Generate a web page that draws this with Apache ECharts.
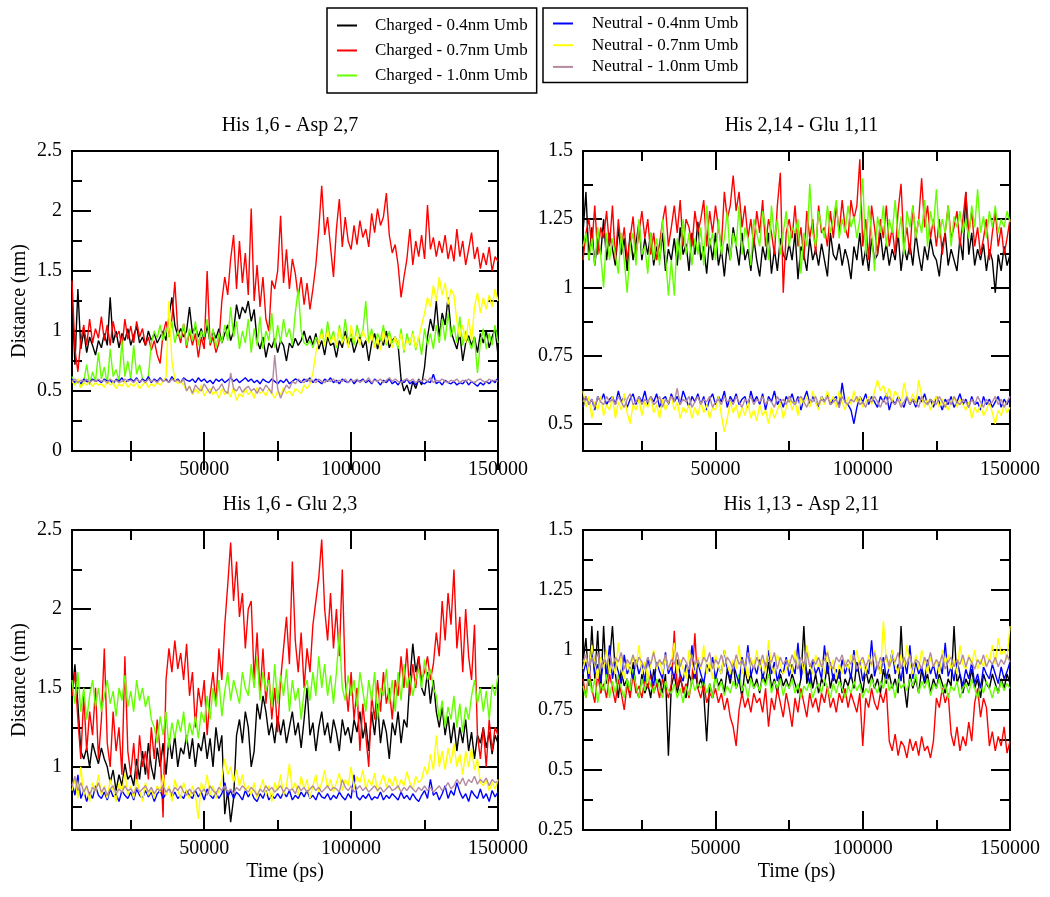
<!DOCTYPE html>
<html><head><meta charset="utf-8">
<script src="https://cdn.jsdelivr.net/npm/echarts@6/dist/echarts.min.js"></script>
<style>html,body{margin:0;padding:0;background:#fff}#c{width:1050px;height:897px}</style>
</head><body><div id="c"></div>
<script>
const times = [5000,6000,7000,8000,9000,10000,11000,12000,13000,14000,
15000,16000,17000,18000,19000,20000,21000,22000,23000,24000,
25000,26000,27000,28000,29000,30000,31000,32000,33000,34000,
35000,36000,37000,38000,39000,40000,41000,42000,43000,44000,
45000,46000,47000,48000,49000,50000,51000,52000,53000,54000,
55000,56000,57000,58000,59000,60000,61000,62000,63000,64000,
65000,66000,67000,68000,69000,70000,71000,72000,73000,74000,
75000,76000,77000,78000,79000,80000,81000,82000,83000,84000,
85000,86000,87000,88000,89000,90000,91000,92000,93000,94000,
95000,96000,97000,98000,99000,100000,101000,102000,103000,104000,
105000,106000,107000,108000,109000,110000,111000,112000,113000,114000,
115000,116000,117000,118000,119000,120000,121000,122000,123000,124000,
125000,126000,127000,128000,129000,130000,131000,132000,133000,134000,
135000,136000,137000,138000,139000,140000,141000,142000,143000,144000,
145000,146000,147000,148000,149000,150000];

const seriesNames = ['Charged - 0.4nm Umb','Charged - 0.7nm Umb','Charged - 1.0nm Umb','Neutral - 0.4nm Umb','Neutral - 0.7nm Umb','Neutral - 1.0nm Umb'];
const seriesColors = ['#000000','#ff0000','#66ff00','#0000ff','#ffff00','#b38aa0'];
const panelTitles = ['His 1,6 - Asp 2,7','His 2,14 - Glu 1,11','His 1,6 - Glu 2,3','His 1,13 - Asp 2,11'];
const xMajorTicks = [50000,100000,150000];
const xMinorTicks = [25000,75000,125000];
const yRanges = [[0,2.5],[0.4,1.5],[0.6,2.5],[0.25,1.5]];
const yMajorTicks = [[0,0.5,1,1.5,2,2.5],[0.5,0.75,1,1.25,1.5],[1,1.5,2,2.5],[0.25,0.5,0.75,1,1.25,1.5]];
const yMinorTicks = [[0.25,0.75,1.25,1.75,2.25],[0.625,0.875,1.125,1.375],[0.75,1.25,1.75,2.25],[0.375,0.625,0.875,1.125,1.375]];

// Panel 1: His 1,6 - Asp 2,7
const p1Black = [1.3,0.72,1.35,0.85,1.0,0.82,0.95,0.88,0.8,0.92,
0.86,0.98,0.88,1.28,0.9,1.0,0.86,0.98,0.92,1.02,
0.88,0.96,1.04,0.9,0.95,0.88,1.0,0.92,0.98,0.9,
0.95,1.0,0.92,1.12,1.28,1.05,0.96,1.02,0.95,1.0,
1.2,0.98,1.04,0.95,1.02,0.92,1.05,0.9,1.0,0.94,
1.02,0.9,0.98,1.05,0.92,1.0,1.22,1.1,1.2,1.15,
1.25,1.08,1.18,0.92,0.85,0.95,0.78,0.9,0.86,0.94,
0.82,0.92,0.88,0.75,0.9,0.86,0.94,0.88,0.92,1.0,
0.9,0.96,0.88,0.98,0.85,0.92,0.8,0.95,0.88,0.9,
0.78,0.92,0.86,1.0,0.88,0.94,0.82,0.9,0.96,0.86,
0.92,0.75,0.9,0.98,0.85,0.94,0.88,1.0,0.86,0.92,
0.95,0.88,0.6,0.5,0.55,0.47,0.58,0.52,0.6,0.55,
0.7,0.95,1.1,1.0,1.25,0.95,1.15,1.05,1.28,1.0,
0.92,0.85,0.98,0.75,0.9,0.96,0.88,0.95,0.82,0.98,
0.9,1.0,0.86,0.95,1.02,0.8];
const p1Red = [1.42,0.85,0.66,0.92,1.05,0.88,1.1,0.9,1.02,0.94,
1.12,0.92,1.05,0.88,1.08,0.95,1.0,0.86,1.1,0.93,
1.04,0.9,1.08,0.95,1.02,0.88,0.95,0.84,0.92,0.8,
0.73,0.98,1.08,0.95,1.1,1.41,1.0,0.9,1.06,0.86,
1.0,0.88,0.98,0.78,0.95,0.85,1.5,0.88,0.95,0.82,
0.9,1.25,1.45,1.3,1.6,1.8,1.35,1.75,1.4,1.65,
1.3,2.02,1.25,1.55,1.2,1.45,1.1,1.0,1.42,1.35,
1.5,1.96,1.4,1.68,1.35,1.6,1.48,1.28,1.45,1.22,
1.4,1.18,1.35,1.55,1.85,2.21,1.8,1.95,1.7,1.45,
1.85,2.1,1.7,1.95,1.75,1.68,1.88,1.72,1.92,1.78,
1.85,1.7,1.98,1.82,2.02,1.88,1.95,2.15,1.8,1.65,
1.72,1.55,1.28,1.45,1.6,1.85,1.55,1.75,1.62,1.8,
1.6,2.05,1.68,1.78,1.62,1.75,1.65,1.8,1.6,1.72,
1.58,1.85,1.62,1.75,1.55,1.68,1.82,1.6,1.7,1.52,
1.65,1.55,1.7,1.5,1.62,1.58];
const p1Green = [0.62,0.55,0.6,0.53,0.58,0.72,0.55,0.66,0.58,0.82,
0.6,0.7,0.56,0.85,0.62,0.68,0.58,0.92,0.62,0.75,
0.6,0.88,0.64,0.72,0.6,0.58,0.62,0.9,1.0,0.94,
1.05,0.92,1.02,0.95,1.08,0.9,1.0,0.94,1.06,0.88,
1.02,0.92,1.08,0.88,1.0,0.95,1.1,0.9,1.02,0.86,
0.98,0.9,1.05,0.92,1.2,0.95,1.08,0.85,1.0,0.9,
1.1,0.82,1.02,0.88,1.12,0.85,1.0,0.92,1.15,0.86,
1.05,0.9,1.1,0.95,1.02,0.88,1.15,1.35,1.0,0.9,
0.88,0.92,0.86,0.95,0.9,1.02,0.88,1.08,0.92,1.0,
0.86,1.05,0.9,1.1,0.92,0.98,0.88,1.05,0.95,1.0,
1.25,0.9,1.02,0.86,0.98,0.92,1.05,0.88,1.0,0.9,
0.95,0.85,1.02,0.82,0.98,0.88,1.0,0.84,0.95,0.8,
1.02,0.88,0.98,0.85,1.05,0.9,1.1,0.92,1.15,0.95,
1.05,0.9,1.12,0.88,1.0,0.92,0.85,0.95,0.65,0.9,
1.02,0.85,0.98,0.88,1.05,0.9];
const p1Blue = [0.6,0.57,0.59,0.56,0.6,0.58,0.57,0.6,0.58,0.59,
0.57,0.6,0.58,0.59,0.56,0.6,0.58,0.61,0.57,0.59,
0.6,0.58,0.61,0.57,0.6,0.58,0.62,0.57,0.6,0.58,
0.61,0.58,0.6,0.57,0.62,0.58,0.6,0.57,0.61,0.59,
0.58,0.6,0.57,0.61,0.58,0.6,0.57,0.59,0.56,0.6,
0.58,0.6,0.57,0.59,0.61,0.58,0.6,0.57,0.59,0.61,
0.58,0.6,0.57,0.59,0.56,0.6,0.58,0.57,0.6,0.58,
0.56,0.59,0.57,0.6,0.56,0.58,0.6,0.59,0.57,0.6,
0.58,0.61,0.57,0.6,0.58,0.56,0.6,0.58,0.61,0.57,
0.59,0.56,0.6,0.58,0.57,0.6,0.56,0.59,0.58,0.6,
0.57,0.59,0.56,0.6,0.58,0.55,0.59,0.57,0.6,0.56,
0.58,0.55,0.59,0.57,0.6,0.56,0.58,0.55,0.59,0.57,
0.56,0.58,0.57,0.64,0.56,0.58,0.55,0.59,0.57,0.56,
0.58,0.55,0.57,0.56,0.59,0.55,0.58,0.56,0.54,0.57,
0.55,0.58,0.56,0.59,0.57,0.61];
const p1Yellow = [0.58,0.55,0.6,0.53,0.57,0.55,0.58,0.54,0.57,0.55,
0.56,0.53,0.58,0.55,0.57,0.52,0.56,0.54,0.58,0.53,
0.56,0.54,0.57,0.52,0.55,0.58,0.53,0.56,0.54,0.57,
0.55,0.58,0.62,1.25,0.75,0.6,0.56,0.58,0.55,0.5,
0.54,0.47,0.52,0.48,0.55,0.46,0.5,0.52,0.47,0.5,
0.44,0.52,0.47,0.5,0.45,0.53,0.42,0.48,0.45,0.52,
0.47,0.5,0.44,0.53,0.48,0.5,0.46,0.52,0.48,0.44,
0.5,0.47,0.53,0.48,0.5,0.46,0.52,0.5,0.48,0.55,
0.52,0.56,0.65,0.82,0.92,0.98,0.88,1.0,0.9,0.96,
0.88,1.02,0.9,0.96,0.86,1.05,0.92,0.98,0.88,1.0,
0.94,0.9,0.98,0.86,0.94,0.84,1.0,0.9,0.96,0.86,
0.95,0.88,0.98,0.84,0.92,0.9,0.98,0.86,0.94,1.05,
1.15,1.28,1.2,1.38,1.25,1.45,1.3,1.4,1.22,1.35,
1.3,1.08,0.95,1.05,0.9,1.1,0.92,1.2,1.32,1.15,
1.28,1.18,1.3,1.2,1.35,1.25];
const p1Mauve = [0.58,0.6,0.57,0.59,0.58,0.6,0.57,0.59,0.58,0.6,
0.58,0.59,0.57,0.6,0.58,0.59,0.57,0.58,0.6,0.58,
0.59,0.57,0.6,0.58,0.59,0.57,0.6,0.58,0.59,0.57,
0.6,0.58,0.59,0.57,0.6,0.58,0.59,0.57,0.6,0.5,
0.54,0.48,0.55,0.52,0.5,0.56,0.52,0.48,0.54,0.5,
0.52,0.56,0.5,0.48,0.65,0.52,0.5,0.54,0.49,0.52,
0.54,0.5,0.52,0.48,0.53,0.5,0.55,0.52,0.48,0.8,
0.52,0.44,0.5,0.55,0.52,0.58,0.56,0.6,0.58,0.57,
0.6,0.58,0.59,0.57,0.6,0.58,0.57,0.59,0.58,0.6,
0.57,0.59,0.58,0.6,0.57,0.59,0.58,0.6,0.57,0.59,
0.58,0.61,0.57,0.59,0.58,0.6,0.57,0.59,0.61,0.58,
0.6,0.58,0.57,0.59,0.6,0.58,0.6,0.57,0.59,0.58,
0.6,0.58,0.61,0.57,0.59,0.58,0.6,0.58,0.57,0.59,
0.58,0.6,0.57,0.59,0.58,0.6,0.58,0.57,0.59,0.6,
0.58,0.57,0.6,0.58,0.59,0.58];

// Panel 2: His 2,14 - Glu 1,11
const p2Black = [1.2,1.35,1.1,1.22,1.08,1.18,1.12,1.25,1.1,1.2,
1.14,1.08,1.22,1.12,1.18,1.06,1.2,1.1,1.16,1.24,
1.1,1.18,1.12,1.2,1.08,1.15,1.1,1.2,1.06,1.14,
1.1,1.18,1.08,1.22,1.12,1.16,1.06,1.2,1.12,1.24,
1.1,1.15,1.05,1.18,1.1,1.2,1.08,1.14,1.04,1.16,
1.1,1.22,1.15,1.08,1.2,1.1,1.14,1.06,1.18,1.1,
1.04,1.15,1.1,1.2,1.05,1.14,1.06,1.18,1.12,1.1,
1.16,1.1,1.2,1.03,1.15,1.12,1.06,1.18,1.1,1.14,
1.08,1.16,1.1,1.04,1.2,1.12,1.1,1.16,1.08,1.14,
1.1,1.03,1.15,1.1,1.2,1.08,1.14,1.06,1.18,1.1,
1.12,1.2,1.1,1.16,1.08,1.14,1.1,1.2,1.06,1.15,
1.1,1.16,1.08,1.2,1.12,1.06,1.15,1.1,1.18,1.12,
1.1,1.04,1.15,1.2,1.08,1.14,1.1,1.06,1.18,1.1,
1.35,1.12,1.2,1.08,1.14,1.1,1.16,1.06,1.14,1.1,
0.98,1.12,1.06,1.15,1.08,1.12];
const p2Red = [1.1,1.2,1.25,1.15,1.3,1.12,1.22,1.18,1.28,1.15,
1.3,1.1,1.25,1.14,1.22,1.1,1.18,1.26,1.12,1.2,
1.28,1.18,1.25,1.12,1.2,1.1,1.16,1.24,1.3,1.15,
1.22,1.3,1.2,1.32,1.15,1.25,1.22,1.15,1.28,1.2,
1.25,1.32,1.15,1.28,1.2,1.3,1.22,1.15,1.35,1.25,
1.3,1.41,1.28,1.35,1.22,1.3,1.18,1.25,1.15,1.28,
1.2,1.32,1.15,1.25,1.2,1.12,1.3,1.42,0.98,1.2,
1.25,1.18,1.3,1.15,1.22,1.1,1.28,1.18,1.25,1.12,
1.3,1.2,1.22,1.15,1.28,1.18,1.3,1.2,1.32,1.22,
1.18,1.32,1.25,1.3,1.47,1.15,1.25,1.1,1.3,1.22,
1.12,1.25,1.18,1.3,1.15,1.22,1.12,1.28,1.38,1.15,
1.22,1.12,1.3,1.18,1.25,1.4,1.22,1.3,1.18,1.25,
1.15,1.25,1.12,1.2,1.3,1.18,1.22,1.28,1.15,1.25,
1.35,1.2,1.28,1.15,1.22,1.12,1.18,1.25,1.1,1.2,
1.28,1.15,1.22,1.12,1.18,1.25];
const p2Green = [1.15,1.2,1.1,1.18,1.08,1.22,1.12,1.0,1.2,1.1,
1.18,1.12,1.05,1.2,1.1,0.98,1.15,1.2,1.08,1.25,
1.12,1.15,1.05,1.2,1.1,1.18,1.08,1.25,1.12,0.97,
1.1,0.97,1.18,1.1,1.25,1.12,1.2,1.08,1.18,1.12,
1.22,1.08,1.3,1.15,1.2,1.1,1.25,1.12,1.18,1.28,
1.1,1.2,1.15,1.3,1.12,1.22,1.18,1.08,1.25,1.2,
1.15,1.28,1.22,1.1,1.3,1.18,1.25,1.12,1.2,1.28,
1.15,1.22,1.2,1.25,1.05,1.2,1.15,1.38,1.2,1.15,
1.28,1.22,1.18,1.3,1.2,1.25,1.32,1.18,1.25,1.2,
1.3,1.22,1.26,1.18,1.25,1.4,1.12,1.3,1.2,1.06,
1.26,1.2,1.3,1.15,1.25,1.2,1.32,1.18,1.26,1.12,
1.28,1.22,1.3,1.18,1.25,1.2,1.32,1.15,1.28,1.22,
1.36,1.18,1.25,1.2,1.3,1.15,1.26,1.22,1.28,1.2,
1.25,1.18,1.3,1.22,1.36,1.2,1.26,1.18,1.28,1.22,
1.3,1.2,1.25,1.22,1.28,1.24];
const p2Blue = [0.56,0.6,0.57,0.59,0.55,0.6,0.58,0.61,0.57,0.59,
0.6,0.57,0.62,0.58,0.6,0.56,0.59,0.61,0.57,0.6,
0.58,0.62,0.57,0.6,0.58,0.61,0.56,0.59,0.6,0.57,
0.61,0.58,0.6,0.57,0.62,0.59,0.56,0.6,0.58,0.61,
0.57,0.6,0.55,0.59,0.61,0.57,0.6,0.58,0.62,0.56,
0.6,0.58,0.61,0.57,0.59,0.6,0.56,0.62,0.58,0.6,
0.57,0.61,0.55,0.6,0.58,0.62,0.57,0.59,0.56,0.6,
0.58,0.61,0.57,0.6,0.55,0.59,0.62,0.57,0.6,0.58,
0.56,0.6,0.58,0.61,0.57,0.59,0.6,0.56,0.65,0.58,
0.57,0.55,0.5,0.56,0.6,0.58,0.61,0.57,0.6,0.58,
0.56,0.6,0.58,0.61,0.55,0.59,0.57,0.6,0.58,0.56,
0.6,0.57,0.59,0.56,0.6,0.58,0.61,0.57,0.59,0.56,
0.6,0.58,0.55,0.59,0.57,0.6,0.56,0.58,0.61,0.57,
0.59,0.56,0.6,0.57,0.58,0.55,0.6,0.57,0.59,0.56,
0.58,0.6,0.56,0.59,0.57,0.6];
const p2Yellow = [0.62,0.56,0.6,0.52,0.58,0.55,0.6,0.53,0.57,0.55,
0.6,0.52,0.58,0.55,0.61,0.54,0.5,0.57,0.55,0.59,
0.53,0.58,0.56,0.6,0.54,0.57,0.52,0.59,0.55,0.58,
0.6,0.55,0.58,0.52,0.56,0.54,0.57,0.52,0.56,0.53,
0.58,0.54,0.57,0.52,0.56,0.55,0.6,0.53,0.47,0.52,
0.58,0.54,0.57,0.52,0.56,0.53,0.58,0.52,0.55,0.51,
0.57,0.53,0.55,0.5,0.56,0.52,0.55,0.58,0.52,0.56,
0.6,0.55,0.58,0.53,0.6,0.57,0.6,0.56,0.62,0.58,
0.55,0.6,0.57,0.62,0.58,0.6,0.56,0.62,0.58,0.55,
0.6,0.57,0.62,0.58,0.6,0.56,0.58,0.6,0.57,0.62,
0.66,0.62,0.64,0.6,0.63,0.58,0.62,0.6,0.57,0.65,
0.6,0.58,0.61,0.57,0.66,0.6,0.56,0.59,0.55,0.58,
0.6,0.56,0.59,0.57,0.55,0.58,0.6,0.56,0.59,0.57,
0.55,0.58,0.52,0.56,0.54,0.57,0.53,0.55,0.58,0.54,
0.5,0.55,0.53,0.57,0.54,0.56];
const p2Mauve = [0.58,0.6,0.57,0.59,0.56,0.6,0.58,0.57,0.6,0.58,
0.59,0.57,0.6,0.58,0.56,0.59,0.61,0.57,0.58,0.6,
0.57,0.59,0.58,0.6,0.57,0.58,0.6,0.56,0.59,0.58,
0.6,0.58,0.63,0.57,0.59,0.58,0.6,0.56,0.58,0.6,
0.57,0.59,0.58,0.6,0.56,0.58,0.59,0.57,0.6,0.58,
0.59,0.57,0.6,0.58,0.56,0.59,0.58,0.6,0.57,0.59,
0.58,0.6,0.57,0.59,0.58,0.56,0.6,0.58,0.59,0.57,
0.6,0.58,0.57,0.59,0.6,0.58,0.56,0.59,0.58,0.6,
0.57,0.59,0.58,0.6,0.57,0.58,0.59,0.56,0.6,0.58,
0.57,0.59,0.58,0.6,0.57,0.58,0.56,0.59,0.58,0.6,
0.58,0.56,0.59,0.57,0.6,0.58,0.57,0.59,0.56,0.58,
0.6,0.57,0.59,0.58,0.56,0.6,0.58,0.57,0.59,0.58,
0.57,0.6,0.58,0.56,0.59,0.57,0.6,0.58,0.57,0.59,
0.58,0.56,0.59,0.57,0.6,0.58,0.56,0.59,0.57,0.58,
0.6,0.57,0.59,0.56,0.58,0.6];

// Panel 3: His 1,6 - Glu 2,3
const p3Black = [1.45,1.65,1.4,1.1,1.05,1.12,1.0,1.15,1.08,1.02,
1.12,1.05,1.0,0.9,0.98,0.85,0.95,0.88,1.02,0.92,
0.95,0.88,1.05,0.92,1.1,0.95,1.15,1.0,0.92,1.12,
1.0,1.15,0.95,1.18,1.05,1.2,1.0,1.12,1.08,1.2,
1.05,1.18,1.0,1.15,1.1,1.22,1.05,1.18,1.0,1.25,
1.1,1.2,0.7,0.85,0.65,0.8,1.2,1.3,1.15,1.35,
1.25,1.0,1.1,1.4,1.3,1.45,1.35,1.2,1.28,1.15,
1.32,1.2,1.3,1.15,1.25,1.35,1.2,1.28,1.12,1.3,
1.5,1.2,1.28,1.1,1.25,1.35,1.2,1.28,1.15,1.3,
1.22,1.1,1.3,1.2,1.25,1.15,1.3,1.22,1.35,1.18,
1.28,1.1,1.35,1.2,1.4,1.15,1.3,1.22,1.05,1.28,
1.2,1.35,1.15,1.3,1.25,1.55,1.78,1.6,1.7,1.5,
1.45,1.6,1.4,1.55,1.35,1.25,1.38,1.2,1.32,1.15,
1.28,1.1,1.25,1.15,1.3,1.1,1.22,1.05,1.2,1.15,
1.25,1.12,1.22,1.08,1.2,1.15];
const p3Red = [1.45,1.6,1.3,1.05,1.45,1.1,1.35,1.2,1.5,1.05,
1.3,1.75,1.15,1.0,1.35,1.1,1.25,0.95,1.7,1.1,
0.95,1.15,0.9,1.2,1.0,1.1,0.92,1.25,1.05,1.3,
1.1,0.68,1.55,1.75,1.6,1.8,1.62,1.72,1.55,1.78,
1.45,1.6,1.25,1.5,1.38,1.55,1.2,1.45,1.6,1.4,
1.75,1.55,1.9,2.15,2.42,2.05,2.3,1.95,2.1,1.75,
2.0,2.05,1.55,1.85,1.45,1.75,1.4,1.6,1.3,1.5,
1.22,1.55,1.75,1.95,1.65,2.3,1.8,1.6,1.85,1.5,
1.75,1.6,1.9,2.05,2.2,2.44,2.0,1.8,2.1,1.75,
2.0,1.7,2.25,1.55,1.35,1.6,1.3,1.5,1.1,1.4,
1.2,1.0,1.45,1.3,1.55,1.35,1.6,1.4,1.5,1.3,
1.55,1.45,1.7,1.5,1.75,1.45,1.65,1.5,1.7,1.55,
1.6,1.7,1.55,1.65,1.85,1.7,2.05,1.8,2.1,1.9,
2.25,1.75,1.95,1.6,2.0,1.7,1.55,1.9,1.2,1.05,
1.25,1.0,1.3,1.1,1.25,1.2];
const p3Green = [1.55,1.4,1.6,1.35,1.5,1.3,1.45,1.55,1.38,1.5,
1.35,1.45,1.55,1.4,1.48,1.32,1.5,1.42,1.58,1.38,
1.48,1.35,1.55,1.42,1.5,1.38,1.45,1.3,1.25,1.15,
1.32,1.2,1.35,1.12,1.28,1.18,1.3,1.22,1.35,1.15,
1.28,1.2,1.32,1.18,1.35,1.28,1.45,1.3,1.5,1.38,
1.55,1.32,1.48,1.6,1.42,1.55,1.48,1.4,1.6,1.5,
1.45,1.65,1.5,1.7,1.42,1.6,1.48,1.55,1.38,1.65,
1.4,1.58,1.45,1.62,1.35,1.55,1.42,1.5,1.3,1.48,
1.55,1.42,1.6,1.45,1.7,1.5,1.65,1.45,1.58,1.4,
1.6,1.85,1.5,1.42,1.58,1.45,1.55,1.38,1.6,1.48,
1.35,1.55,1.42,1.6,1.3,1.5,1.45,1.62,1.4,1.55,
1.35,1.6,1.42,1.65,1.5,1.58,1.45,1.55,1.62,1.5,
1.68,1.55,1.62,1.5,1.45,1.3,1.42,1.25,1.38,1.3,
1.45,1.25,1.4,1.22,1.38,1.3,1.45,1.55,1.4,1.5,
1.35,1.48,1.3,1.52,1.45,1.58];
const p3Blue = [0.9,0.82,0.95,0.8,0.85,0.78,0.84,0.8,0.88,0.82,
0.8,0.84,0.79,0.86,0.81,0.83,0.78,0.85,0.82,0.8,
0.84,0.79,0.86,0.82,0.8,0.85,0.81,0.84,0.78,0.83,
0.85,0.8,0.83,0.87,0.81,0.84,0.8,0.82,0.8,0.85,
0.82,0.8,0.85,0.81,0.84,0.79,0.86,0.82,0.8,0.84,
0.8,0.83,0.9,0.81,0.85,0.8,0.84,0.82,0.79,0.85,
0.81,0.84,0.8,0.78,0.83,0.8,0.85,0.79,0.82,0.8,
0.83,0.8,0.84,0.81,0.85,0.79,0.82,0.8,0.84,0.81,
0.85,0.8,0.82,0.79,0.84,0.81,0.8,0.83,0.79,0.82,
0.8,0.84,0.81,0.79,0.83,0.8,0.95,0.81,0.79,0.82,
0.8,0.83,0.79,0.81,0.8,0.84,0.79,0.82,0.8,0.83,
0.81,0.79,0.84,0.8,0.82,0.79,0.83,0.8,0.78,0.82,
0.85,0.8,0.92,0.82,0.84,0.79,0.83,0.88,0.8,0.85,
0.82,0.9,0.84,0.8,0.83,0.78,0.85,0.82,0.8,0.86,
0.8,0.83,0.78,0.85,0.81,0.84];
const p3Yellow = [0.85,0.92,0.8,1.0,0.82,0.88,0.78,0.9,0.84,0.95,
0.82,0.88,0.8,0.92,0.85,0.78,0.9,0.84,0.96,0.82,
0.88,0.8,0.92,0.85,0.78,0.9,0.82,0.86,0.8,0.88,
0.84,0.95,0.82,0.88,0.78,0.92,0.85,0.8,0.9,0.84,
0.8,0.88,0.82,0.67,0.9,0.84,0.95,0.82,0.88,0.8,
0.85,0.92,1.05,0.95,1.0,0.9,0.98,0.88,0.95,0.85,
0.88,0.82,0.9,0.8,0.86,0.92,0.82,0.88,0.78,0.9,
0.85,0.95,0.82,0.88,1.02,0.85,0.9,0.82,0.94,0.86,
0.92,0.8,0.88,0.95,0.84,0.9,0.98,0.86,0.92,0.84,
0.9,0.96,0.85,0.92,0.88,1.0,0.86,0.94,0.9,0.98,
0.86,0.92,0.88,0.96,0.84,0.9,0.95,0.87,0.93,0.88,
0.94,0.86,0.92,0.88,0.97,0.9,0.86,0.94,0.9,0.92,
1.0,0.95,1.08,0.98,1.2,1.0,1.1,0.98,1.12,1.02,
1.15,1.0,1.08,0.95,1.1,1.0,1.12,0.98,1.05,0.9,
0.88,0.92,0.85,0.9,0.86,0.92];
const p3Mauve = [0.88,0.94,0.85,0.9,0.84,0.88,0.82,0.87,0.85,0.9,
0.84,0.87,0.82,0.86,0.88,0.83,0.86,0.84,0.88,0.85,
0.86,0.83,0.87,0.84,0.86,0.88,0.84,0.87,0.83,0.86,
0.85,0.88,0.84,0.86,0.83,0.87,0.85,0.88,0.84,0.82,
0.86,0.83,0.85,0.87,0.84,0.86,0.82,0.88,0.85,0.83,
0.87,0.85,0.88,0.84,0.86,0.83,0.87,0.85,0.88,0.86,
0.84,0.87,0.85,0.82,0.86,0.84,0.88,0.85,0.87,0.84,
0.86,0.88,0.84,0.87,0.85,0.86,0.83,0.88,0.85,0.87,
0.84,0.86,0.88,0.85,0.87,0.84,0.86,0.88,0.85,0.87,
0.86,0.84,0.92,0.87,0.85,0.88,0.84,0.86,0.88,0.85,
0.87,0.84,0.86,0.88,0.85,0.87,0.84,0.86,0.88,0.85,
0.86,0.88,0.84,0.87,0.85,0.88,0.86,0.84,0.87,0.85,
0.88,0.85,0.87,0.84,0.86,0.88,0.85,0.87,0.9,0.86,
0.88,0.92,0.89,0.93,0.88,0.92,0.9,0.94,0.89,0.92,
0.9,0.93,0.88,0.92,0.9,0.91];

// Panel 4: His 1,13 - Asp 2,11
const p4Black = [0.95,1.05,0.85,1.1,0.88,1.08,0.82,1.1,0.86,0.95,
1.1,0.9,0.8,0.92,0.85,0.88,0.82,0.95,0.84,0.8,
0.9,0.82,0.86,0.8,0.92,0.85,0.88,0.82,0.9,0.56,
0.85,0.9,0.82,0.88,0.84,0.8,0.9,0.86,0.92,0.84,
0.88,0.82,0.62,0.86,0.8,0.9,0.85,0.88,0.82,0.92,
0.86,0.95,0.84,0.88,0.8,0.92,0.86,0.9,0.84,0.88,
0.82,0.9,0.86,0.95,0.84,0.88,0.82,0.9,0.85,0.88,
0.84,0.9,0.86,0.82,0.88,1.1,0.86,0.92,0.84,0.9,
0.82,0.88,0.85,0.95,0.84,0.9,0.86,0.92,0.82,0.88,
0.85,0.9,0.84,0.95,0.88,0.82,0.92,0.86,0.9,0.84,
0.88,0.82,0.92,0.86,0.9,0.84,0.88,0.82,1.1,0.86,
0.76,0.9,0.84,0.88,0.82,0.92,0.86,0.9,0.82,0.88,
0.84,0.9,0.86,0.82,0.88,0.85,1.1,0.86,0.9,0.82,
0.88,0.85,0.92,0.84,0.88,0.8,0.9,0.86,0.84,0.9,
0.86,0.82,0.88,0.84,0.9,0.86];
const p4Red = [0.88,0.8,0.92,0.84,0.78,0.9,0.82,0.86,0.8,0.9,
0.84,0.78,0.88,0.82,0.75,0.86,0.8,0.9,0.82,0.85,
0.8,0.88,0.84,0.9,0.82,0.86,0.8,0.88,0.84,0.8,
0.86,1.08,0.84,0.9,0.82,0.86,0.8,0.88,1.07,0.84,
0.8,0.86,0.78,0.82,0.8,0.84,0.78,0.82,0.75,0.8,
0.72,0.68,0.6,0.75,0.82,0.76,0.8,0.74,0.82,0.78,
0.8,0.74,0.84,0.68,0.8,0.75,0.84,0.78,0.72,0.82,
0.76,0.68,0.8,0.74,0.84,0.78,0.72,0.82,0.76,0.8,
0.74,0.82,0.78,0.85,0.76,0.8,0.74,0.82,0.78,0.84,
0.76,0.82,0.78,0.74,0.82,0.6,0.8,0.76,0.84,0.78,
0.75,0.82,0.78,0.84,0.62,0.58,0.65,0.56,0.62,0.6,
0.55,0.63,0.58,0.62,0.56,0.64,0.58,0.6,0.55,0.62,
0.8,0.76,0.84,0.78,0.82,0.65,0.6,0.68,0.58,0.64,
0.6,0.7,0.62,0.78,0.84,0.72,0.8,0.76,0.6,0.66,
0.58,0.64,0.6,0.68,0.57,0.62];
const p4Green = [0.85,0.8,0.9,0.82,0.88,0.78,0.86,0.83,0.9,0.8,
0.87,0.82,0.9,0.84,0.8,0.88,0.83,0.92,0.85,0.8,
0.88,0.83,0.9,0.85,0.82,0.88,0.84,0.8,0.87,0.83,
0.82,0.86,0.8,0.84,0.78,0.85,0.81,0.88,0.83,0.86,
0.84,0.88,0.82,0.86,0.8,0.9,0.83,0.87,0.81,0.85,
0.82,0.87,0.84,0.9,0.83,0.86,0.8,0.88,0.84,0.86,
0.83,0.88,0.85,0.9,0.82,0.87,0.84,0.88,0.81,0.86,
0.84,0.88,0.82,0.86,0.8,0.85,0.83,0.87,0.8,0.84,
0.86,0.82,0.88,0.84,0.8,0.86,0.82,0.87,0.84,0.8,
0.85,0.82,0.87,0.83,0.86,0.8,0.84,0.82,0.88,0.85,
0.82,0.87,0.84,0.9,0.83,0.86,0.8,0.88,0.84,0.86,
0.83,0.88,0.85,0.9,0.82,0.87,0.84,0.88,0.81,0.86,
0.84,0.88,0.82,0.86,0.8,0.85,0.83,0.87,0.8,0.84,
0.86,0.82,0.88,0.84,0.8,0.86,0.82,0.87,0.84,0.8,
0.85,0.82,0.87,0.83,0.86,0.84];
const p4Blue = [0.9,0.95,0.88,1.0,0.9,0.94,0.87,0.96,0.9,1.02,
0.88,0.95,0.91,0.86,0.98,0.9,0.93,0.88,0.96,0.9,
0.94,0.87,0.97,0.9,0.85,0.95,0.91,0.88,0.99,0.9,
0.93,0.88,0.96,0.9,0.87,0.94,0.9,1.02,0.88,0.95,
0.9,0.86,0.94,0.91,0.97,0.88,0.93,0.9,1.0,0.92,
0.88,0.95,0.9,0.86,0.97,0.91,1.02,0.89,0.94,0.9,
0.96,0.88,0.93,1.0,0.9,0.95,0.87,0.92,0.9,0.97,
0.89,0.94,0.9,1.03,0.88,0.95,0.91,0.86,0.96,0.9,
0.93,0.88,1.02,0.9,0.95,0.87,0.92,0.88,0.96,0.9,
0.94,0.88,1.0,0.91,0.95,0.87,0.93,0.9,1.04,0.89,
0.95,0.9,0.97,0.88,0.93,1.0,0.9,0.94,0.87,0.96,
0.9,1.02,0.88,0.95,0.9,0.93,0.87,0.96,0.9,0.94,
0.88,0.95,0.9,1.03,0.89,0.93,0.87,0.96,0.9,0.85,
0.92,0.88,0.95,0.86,0.9,0.84,0.93,0.9,0.88,0.94,
0.9,0.86,0.93,0.88,0.91,0.95];
const p4Yellow = [0.92,0.98,0.9,1.02,0.94,0.88,0.97,0.92,1.0,0.9,
0.95,0.9,1.03,0.92,0.88,0.96,0.9,0.98,0.93,1.02,
0.9,0.95,0.88,0.94,1.0,0.92,0.96,0.9,0.98,0.92,
0.95,1.03,0.9,0.96,0.92,0.88,1.0,0.94,0.9,0.97,
0.92,1.02,0.9,0.95,0.88,0.98,0.93,0.9,1.0,0.94,
0.9,0.96,0.92,1.02,0.9,0.95,0.88,0.97,0.93,1.0,
0.92,0.96,0.9,1.04,0.93,0.9,0.98,0.94,0.9,0.92,
0.96,0.9,1.0,0.93,0.97,0.9,1.02,0.94,0.9,0.98,
0.93,0.96,0.9,1.0,0.92,0.96,0.88,0.94,0.9,0.96,
0.92,0.98,0.94,1.0,0.92,0.96,0.9,0.98,0.93,1.0,
0.94,0.9,1.12,0.96,0.92,1.0,0.94,0.9,0.98,0.93,
1.02,0.94,0.9,0.98,0.92,1.0,0.95,0.9,0.97,0.93,
0.96,0.9,1.0,0.94,0.98,0.92,0.96,0.9,1.02,0.94,
0.92,0.98,0.94,1.0,0.92,0.96,0.93,0.98,0.95,1.02,
0.94,1.05,0.98,1.0,0.96,1.1];
const p4Mauve = [0.95,0.98,0.93,0.97,0.94,0.99,0.92,0.96,0.94,0.98,
0.93,0.97,0.95,0.99,0.92,0.96,0.94,0.98,0.93,0.97,
0.95,0.92,0.97,0.94,0.99,0.93,0.96,0.94,0.98,0.92,
0.96,0.94,0.99,0.93,0.97,0.95,0.92,0.98,0.94,0.96,
0.93,0.97,0.95,0.99,0.92,0.96,0.94,0.98,0.93,0.97,
0.95,0.92,0.98,0.94,0.96,0.93,0.99,0.95,0.92,0.97,
0.94,0.98,0.93,0.96,0.95,0.99,0.92,0.97,0.94,0.96,
0.93,0.98,0.95,0.92,0.97,0.94,0.99,0.93,0.96,0.94,
0.97,0.93,0.96,0.99,0.94,0.92,0.97,0.95,0.98,0.93,
0.96,0.94,0.98,0.92,0.95,0.97,0.93,0.96,0.94,0.99,
0.92,0.97,0.94,0.98,0.93,0.96,0.95,0.99,0.92,0.97,
0.94,0.98,0.93,0.96,0.95,0.92,0.97,0.94,0.99,0.93,
0.96,0.94,0.98,0.92,0.95,0.97,0.93,0.96,0.94,0.98,
0.93,0.97,0.95,0.92,0.96,0.94,0.98,0.93,0.96,0.94,
0.97,0.93,0.96,0.94,0.98,0.95];

const panelData = [
  [p1Black,p1Red,p1Green,p1Blue,p1Yellow,p1Mauve],
  [p2Black,p2Red,p2Green,p2Blue,p2Yellow,p2Mauve],
  [p3Black,p3Red,p3Green,p3Blue,p3Yellow,p3Mauve],
  [p4Black,p4Red,p4Green,p4Blue,p4Yellow,p4Mauve]
];

const FONT = '"Liberation Serif", "DejaVu Serif", serif';
const grids = [
  {left:72, top:151, width:426, height:300},
  {left:583, top:151, width:427, height:300},
  {left:72, top:530, width:426, height:300},
  {left:583, top:530, width:427, height:300}
];
const tickLine = {color:'#000', width:2};
const txt = {fontFamily:FONT, fontSize:20, color:'#000'};
const plain = v => String(v);

const xAxes = [], yAxes = [];
grids.forEach((g, gi) => {
  const bottomRow = gi >= 2;
  const leftCol = gi % 2 === 0;
  const mk = (pos, vals, len, labels, name) => ({
    type:'value', gridIndex:gi, position:pos, min:5000, max:150000,
    axisLine:{show:false}, splitLine:{show:false},
    axisTick:{show:true, inside:true, length:len, customValues:vals, lineStyle:tickLine},
    axisLabel: labels ? Object.assign({show:true, customValues:vals, margin:9, formatter:plain}, txt) : {show:false},
    name: name || '', nameLocation:'middle', nameGap:32, nameTextStyle:txt
  });
  xAxes.push(mk('bottom', xMajorTicks, 19, true, bottomRow ? 'Time (ps)' : ''));
  xAxes.push(mk('bottom', xMinorTicks, 10, false));
  xAxes.push(mk('top', xMajorTicks, 19, false));
  xAxes.push(mk('top', xMinorTicks, 10, false));
  const [ymin, ymax] = yRanges[gi];
  const mky = (pos, vals, len, labels, name) => ({
    type:'value', gridIndex:gi, position:pos, min:ymin, max:ymax,
    axisLine:{show:false}, splitLine:{show:false},
    axisTick:{show:true, inside:true, length:len, customValues:vals, lineStyle:tickLine},
    axisLabel: labels ? Object.assign({show:true, customValues:vals, margin:10, formatter:plain}, txt) : {show:false},
    name: name || '', nameLocation:'middle', nameGap:42, nameTextStyle:txt
  });
  yAxes.push(mky('left', yMajorTicks[gi], 19, true, leftCol ? 'Distance (nm)' : ''));
  yAxes.push(mky('left', yMinorTicks[gi], 10, false));
  yAxes.push(mky('right', yMajorTicks[gi], 19, false));
  yAxes.push(mky('right', yMinorTicks[gi], 10, false));
});

const series = [];
panelData.forEach((sets, gi) => {
  sets.forEach((vals, si) => {
    series.push({
      type:'line', name:seriesNames[si], xAxisIndex:gi*4, yAxisIndex:gi*4,
      data: times.map((t, i) => [t, vals[i]]),
      symbol:'none', showSymbol:false, clip:true, silent:true,
      lineStyle:{color:seriesColors[si], width:1.4}, itemStyle:{color:seriesColors[si]},
      z: 2 + si
    });
  });
});

const titles = panelTitles.map((t, gi) => ({
  text:t, left: grids[gi].left + grids[gi].width/2, top: grids[gi].top - 40, textAlign:'center',
  textStyle:{fontFamily:FONT, fontSize:20, fontWeight:'normal', color:'#000'}
}));

const legendCommon = {
  orient:'vertical', icon:'rect', itemWidth:20, itemHeight:2, borderColor:'#000', borderWidth:1.5, borderRadius:0,
  selectedMode:false, backgroundColor:'#fff'
};

const chart = echarts.init(document.getElementById('c'), null, {renderer:'canvas'});
chart.setOption({
  animation:false,
  backgroundColor:'#ffffff',
  title: titles,
  legend: [
    Object.assign({}, legendCommon, {data:seriesNames.slice(0,3), left:327, top:8, itemGap:8, padding:[9,9,9,10],
      textStyle:{fontFamily:FONT, fontSize:17, color:'#000', lineHeight:17, padding:[0,0,0,13]}}),
    Object.assign({}, legendCommon, {data:seriesNames.slice(3), left:543, top:8, itemGap:4.7, padding:[7,9,7,10],
      textStyle:{fontFamily:FONT, fontSize:17, color:'#000', lineHeight:17, padding:[0,0,0,14]}})
  ],
  grid: grids.map(g => Object.assign({show:true, borderColor:'#000', borderWidth:2, backgroundColor:'transparent'}, g)),
  xAxis: xAxes,
  yAxis: yAxes,
  series: series
});
</script></body></html>
